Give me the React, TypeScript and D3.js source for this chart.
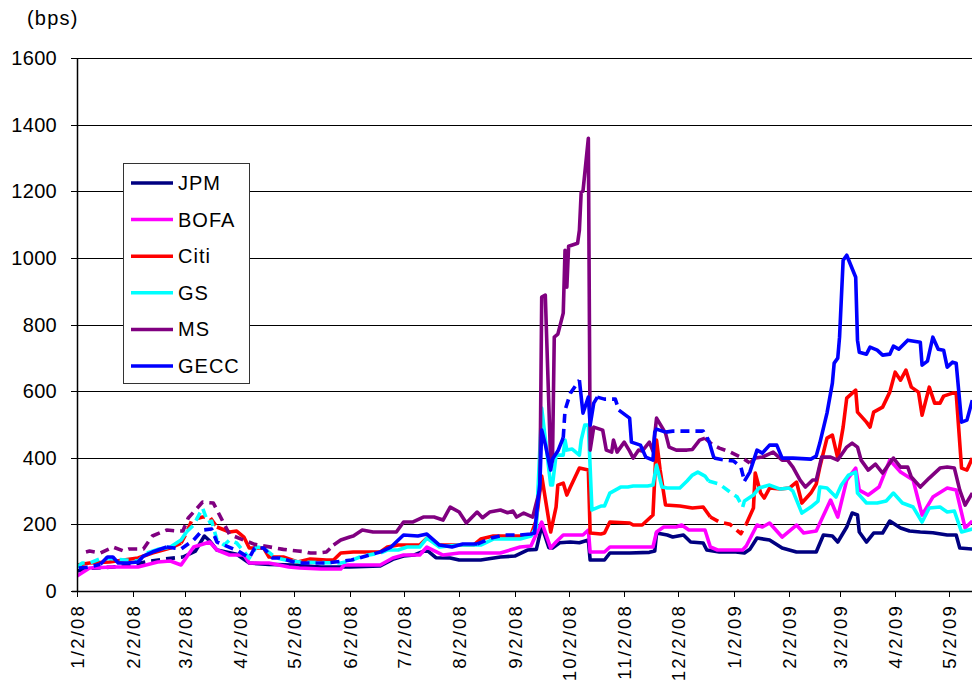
import React from 'react';
import * as d3 from 'd3';

type Pt = [string, number];

const monthTicks: string[] = ['2008-01-02','2008-02-02','2008-03-02','2008-04-02','2008-05-02','2008-06-02','2008-07-02','2008-08-02','2008-09-02','2008-10-02','2008-11-02','2008-12-02','2009-01-02','2009-02-02','2009-03-02','2009-04-02','2009-05-02'];
const tickLabels: string[] = ['1/2/08','2/2/08','3/2/08','4/2/08','5/2/08','6/2/08','7/2/08','8/2/08','9/2/08','10/2/08','11/2/08','12/2/08','1/2/09','2/2/09','3/2/09','4/2/09','5/2/09'];
const yTicks: number[] = [0, 200, 400, 600, 800, 1000, 1200, 1400, 1600];

const jpm: Pt[] = [['2008-01-02',60],['2008-01-09',68],['2008-01-22',72],['2008-02-01',78],['2008-02-12',90],['2008-02-20',96],['2008-03-01',102],['2008-03-08',120],['2008-03-13',165],['2008-03-16',150],['2008-03-20',123],['2008-03-31',110],['2008-04-07',84],['2008-04-18',80],['2008-05-01',78],['2008-05-17',72],['2008-06-02',72],['2008-06-19',75],['2008-06-26',95],['2008-07-02',105],['2008-07-08',108],['2008-07-15',123],['2008-07-20',100],['2008-07-28',99],['2008-08-02',93],['2008-08-14',93],['2008-08-25',102],['2008-09-02',105],['2008-09-09',123],['2008-09-14',125],['2008-09-17',195],['2008-09-21',130],['2008-09-23',129],['2008-09-27',145],['2008-10-03',147],['2008-10-08',145],['2008-10-13',153],['2008-10-14',93],['2008-10-20',93],['2008-10-22',93],['2008-10-25',114],['2008-11-05',114],['2008-11-16',116],['2008-11-19',120],['2008-11-20',174],['2008-11-26',168],['2008-11-29',162],['2008-12-05',168],['2008-12-09',147],['2008-12-16',144],['2008-12-18',123],['2008-12-25',117],['2009-01-02',118],['2009-01-08',114],['2009-01-11',125],['2009-01-15',159],['2009-01-22',153],['2009-01-29',129],['2009-02-06',117],['2009-02-17',117],['2009-02-21',168],['2009-02-26',165],['2009-03-01',147],['2009-03-06',192],['2009-03-09',234],['2009-03-12',228],['2009-03-13',177],['2009-03-17',147],['2009-03-21',174],['2009-03-26',174],['2009-03-30',210],['2009-04-05',189],['2009-04-10',180],['2009-04-16',177],['2009-04-23',175],['2009-05-01',168],['2009-05-06',168],['2009-05-08',129],['2009-05-15',126]];

const bofa: Pt[] = [['2008-01-02',45],['2008-01-09',69],['2008-01-22',72],['2008-02-05',72],['2008-02-16',87],['2008-02-23',90],['2008-02-29',78],['2008-03-07',132],['2008-03-16',147],['2008-03-20',123],['2008-03-27',108],['2008-04-04',108],['2008-04-07',84],['2008-04-18',84],['2008-04-29',72],['2008-05-05',69],['2008-05-17',66],['2008-05-28',66],['2008-05-30',78],['2008-06-19',78],['2008-06-26',99],['2008-07-02',108],['2008-07-11',108],['2008-07-15',132],['2008-07-24',108],['2008-08-02',114],['2008-08-25',114],['2008-09-05',132],['2008-09-11',135],['2008-09-17',207],['2008-09-22',129],['2008-09-25',147],['2008-09-29',168],['2008-10-10',168],['2008-10-13',183],['2008-10-14',117],['2008-10-22',117],['2008-10-25',132],['2008-11-18',132],['2008-11-20',177],['2008-11-24',192],['2008-12-01',192],['2008-12-04',198],['2008-12-08',183],['2008-12-17',183],['2008-12-20',132],['2008-12-24',123],['2009-01-07',123],['2009-01-09',135],['2009-01-15',198],['2009-01-18',192],['2009-01-22',204],['2009-01-29',162],['2009-02-06',198],['2009-02-10',174],['2009-02-17',180],['2009-02-25',273],['2009-03-01',222],['2009-03-06',333],['2009-03-11',369],['2009-03-13',303],['2009-03-18',288],['2009-03-24',312],['2009-03-30',393],['2009-04-05',357],['2009-04-12',333],['2009-04-17',228],['2009-04-23',282],['2009-05-01',309],['2009-05-06',303],['2009-05-11',189],['2009-05-15',210]];

const citi: Pt[] = [['2008-01-02',78],['2008-01-09',84],['2008-01-20',87],['2008-02-05',99],['2008-02-13',114],['2008-02-23',129],['2008-02-29',144],['2008-03-03',174],['2008-03-06',213],['2008-03-12',222],['2008-03-16',222],['2008-03-20',192],['2008-03-27',177],['2008-03-31',180],['2008-04-04',162],['2008-04-07',129],['2008-04-15',129],['2008-04-18',102],['2008-04-26',102],['2008-05-04',87],['2008-05-11',96],['2008-05-20',93],['2008-05-24',93],['2008-05-28',114],['2008-06-04',117],['2008-06-19',117],['2008-06-23',132],['2008-06-29',138],['2008-07-11',138],['2008-07-15',159],['2008-07-22',138],['2008-08-10',138],['2008-08-14',156],['2008-08-21',165],['2008-09-05',165],['2008-09-11',168],['2008-09-14',213],['2008-09-17',345],['2008-09-22',177],['2008-09-25',252],['2008-09-26',318],['2008-09-29',324],['2008-10-01',288],['2008-10-03',312],['2008-10-08',369],['2008-10-13',363],['2008-10-14',174],['2008-10-20',171],['2008-10-22',174],['2008-10-25',207],['2008-11-05',204],['2008-11-07',198],['2008-11-12',198],['2008-11-18',228],['2008-11-20',453],['2008-11-22',363],['2008-11-25',258],['2008-12-03',255],['2008-12-10',249],['2008-12-16',252],['2008-12-20',222],['2008-12-25',207],['2008-12-31',200],['2009-01-06',172],['2009-01-09',201],['2009-01-13',249],['2009-01-14',354],['2009-01-17',294],['2009-01-19',279],['2009-01-22',309],['2009-01-28',306],['2009-02-02',309],['2009-02-06',327],['2009-02-09',264],['2009-02-14',294],['2009-02-17',321],['2009-02-19',372],['2009-02-23',459],['2009-02-26',468],['2009-03-01',399],['2009-03-04',492],['2009-03-06',579],['2009-03-11',603],['2009-03-12',537],['2009-03-17',507],['2009-03-19',492],['2009-03-21',537],['2009-03-26',552],['2009-03-30',597],['2009-04-02',657],['2009-04-05',633],['2009-04-08',663],['2009-04-11',612],['2009-04-15',597],['2009-04-17',528],['2009-04-21',612],['2009-04-24',564],['2009-04-27',564],['2009-04-29',585],['2009-05-04',594],['2009-05-06',594],['2009-05-09',369],['2009-05-12',363],['2009-05-15',399]];

const gs: Pt[] = [['2008-01-02',72],['2008-01-05',84],['2008-01-09',84],['2008-01-16',99],['2008-01-25',95],['2008-02-05',90],['2008-02-10',114],['2008-02-16',125],['2008-02-23',132],['2008-02-29',153],['2008-03-03',177],['2008-03-07',198],['2008-03-12',249],['2008-03-15',205],['2008-03-17',210],['2008-03-20',153],['2008-03-24',138],['2008-03-27',153],['2008-03-31',144],['2008-04-07',99],['2008-04-11',132],['2008-04-15',129],['2008-04-22',99],['2008-04-28',92],['2008-05-05',87],['2008-05-20',85],['2008-05-28',84],['2008-06-02',90],['2008-06-09',105],['2008-06-19',114],['2008-06-23',123],['2008-06-29',123],['2008-07-04',132],['2008-07-11',132],['2008-07-15',159],['2008-07-22',132],['2008-08-02',138],['2008-08-14',138],['2008-08-21',156],['2008-09-05',156],['2008-09-11',165],['2008-09-14',192],['2008-09-17',549],['2008-09-22',318],['2008-09-23',318],['2008-09-25',408],['2008-09-29',408],['2008-09-30',453],['2008-10-01',423],['2008-10-04',426],['2008-10-08',408],['2008-10-09',453],['2008-10-11',498],['2008-10-13',498],['2008-10-15',243],['2008-10-16',246],['2008-10-20',255],['2008-10-22',255],['2008-10-25',294],['2008-10-31',312],['2008-11-04',312],['2008-11-07',315],['2008-11-11',315],['2008-11-15',315],['2008-11-18',318],['2008-11-20',378],['2008-11-23',312],['2008-11-26',309],['2008-12-03',309],['2008-12-07',330],['2008-12-10',348],['2008-12-13',357],['2008-12-17',345],['2008-12-19',330],['2008-12-25',321],['2008-12-31',297],['2009-01-04',282],['2009-01-07',252],['2009-01-08',270],['2009-01-13',288],['2009-01-16',309],['2009-01-22',318],['2009-01-28',306],['2009-02-02',309],['2009-02-04',300],['2009-02-09',234],['2009-02-14',252],['2009-02-18',270],['2009-02-19',312],['2009-02-23',309],['2009-02-28',282],['2009-03-03',318],['2009-03-07',348],['2009-03-11',357],['2009-03-12',294],['2009-03-17',264],['2009-03-23',264],['2009-03-28',270],['2009-04-01',294],['2009-04-06',264],['2009-04-12',252],['2009-04-17',207],['2009-04-21',249],['2009-04-27',252],['2009-05-01',237],['2009-05-05',240],['2009-05-09',177],['2009-05-15',186]];

const ms: Pt[] = [['2008-01-07',117],['2008-01-09',120],['2008-01-15',114],['2008-01-22',132],['2008-01-28',120],['2008-01-31',126],['2008-02-05',126],['2008-02-08',126],['2008-02-13',165],['2008-02-21',183],['2008-02-27',180],['2008-03-01',180],['2008-03-04',219],['2008-03-12',267],['2008-03-18',264],['2008-03-27',170],['2008-04-10',140],['2008-04-26',125],['2008-04-29',123],['2008-05-04',120],['2008-05-08',118],['2008-05-11',114],['2008-05-15',114],['2008-05-20',117],['2008-05-24',138],['2008-05-28',153],['2008-06-02',162],['2008-06-04',165],['2008-06-09',183],['2008-06-15',177],['2008-06-28',177],['2008-07-02',207],['2008-07-07',207],['2008-07-13',222],['2008-07-19',222],['2008-07-24',213],['2008-07-28',252],['2008-08-02',237],['2008-08-06',204],['2008-08-12',237],['2008-08-15',220],['2008-08-19',237],['2008-08-25',243],['2008-08-29',235],['2008-09-01',240],['2008-09-03',222],['2008-09-07',234],['2008-09-12',222],['2008-09-14',264],['2008-09-16',303],['2008-09-17',882],['2008-09-19',888],['2008-09-22',387],['2008-09-23',390],['2008-09-24',762],['2008-09-26',771],['2008-09-29',834],['2008-09-30',1023],['2008-10-01',912],['2008-10-02',1035],['2008-10-07',1044],['2008-10-08',1083],['2008-10-09',1197],['2008-10-10',1200],['2008-10-13',1359],['2008-10-14',423],['2008-10-16',492],['2008-10-21',483],['2008-10-23',423],['2008-10-26',417],['2008-10-27',453],['2008-10-29',417],['2008-11-02',447],['2008-11-05',420],['2008-11-07',399],['2008-11-10',423],['2008-11-12',420],['2008-11-16',447],['2008-11-18',420],['2008-11-20',519],['2008-11-25',474],['2008-11-27',432],['2008-12-01',423],['2008-12-07',423],['2008-12-10',425],['2008-12-14',453],['2008-12-17',459],['2008-12-21',440],['2008-12-25',429],['2008-12-31',417],['2009-01-07',399],['2009-01-11',384],['2009-01-14',399],['2009-01-18',402],['2009-01-24',417],['2009-01-29',393],['2009-02-01',393],['2009-02-04',372],['2009-02-08',333],['2009-02-11',312],['2009-02-15',333],['2009-02-17',333],['2009-02-20',402],['2009-02-25',402],['2009-03-01',393],['2009-03-06',432],['2009-03-09',444],['2009-03-12',432],['2009-03-14',393],['2009-03-18',363],['2009-03-22',381],['2009-03-26',354],['2009-04-01',399],['2009-04-05',372],['2009-04-09',372],['2009-04-11',342],['2009-04-16',312],['2009-04-21',339],['2009-04-27',369],['2009-05-01',372],['2009-05-05',369],['2009-05-08',303],['2009-05-11',258],['2009-05-15',294]];

const gecc: Pt[] = [['2008-01-03',69],['2008-01-09',72],['2008-01-15',80],['2008-01-19',102],['2008-01-22',102],['2008-01-25',84],['2008-01-30',84],['2008-02-05',87],['2008-02-08',105],['2008-02-13',117],['2008-02-21',132],['2008-02-29',126],['2008-03-07',153],['2008-03-12',183],['2008-03-17',186],['2008-03-20',147],['2008-04-01',120],['2008-04-07',99],['2008-04-10',129],['2008-04-15',129],['2008-04-20',99],['2008-04-24',99],['2008-05-04',84],['2008-05-15',84],['2008-05-20',84],['2008-06-03',93],['2008-06-19',117],['2008-06-25',132],['2008-07-02',168],['2008-07-10',165],['2008-07-15',171],['2008-07-22',138],['2008-07-29',132],['2008-08-04',141],['2008-08-12',141],['2008-08-20',159],['2008-08-27',168],['2008-09-05',168],['2008-09-11',171],['2008-09-13',174],['2008-09-16',324],['2008-09-17',483],['2008-09-19',440],['2008-09-22',363],['2008-09-23',396],['2008-09-26',420],['2008-09-29',460],['2008-09-30',543],['2008-10-03',594],['2008-10-08',633],['2008-10-10',534],['2008-10-13',582],['2008-10-14',498],['2008-10-16',564],['2008-10-18',582],['2008-10-22',576],['2008-10-28',576],['2008-10-30',543],['2008-11-05',519],['2008-11-06',447],['2008-11-11',438],['2008-11-14',402],['2008-11-18',393],['2008-11-19',477],['2008-11-20',486],['2008-11-25',477],['2008-11-29',480],['2008-12-08',480],['2008-12-16',480],['2008-12-19',453],['2008-12-22',399],['2008-12-28',393],['2009-01-02',390],['2009-01-06',372],['2009-01-08',330],['2009-01-11',357],['2009-01-15',423],['2009-01-18',414],['2009-01-22',438],['2009-01-26',438],['2009-01-29',399],['2009-02-04',399],['2009-02-14',396],['2009-02-17',405],['2009-02-19',444],['2009-02-23',534],['2009-02-26',624],['2009-02-27',684],['2009-03-01',699],['2009-03-02',762],['2009-03-04',993],['2009-03-06',1008],['2009-03-11',942],['2009-03-12',753],['2009-03-13',717],['2009-03-17',711],['2009-03-19',732],['2009-03-23',723],['2009-03-26',708],['2009-03-30',711],['2009-04-01',735],['2009-04-04',726],['2009-04-09',753],['2009-04-16',747],['2009-04-17',678],['2009-04-20',690],['2009-04-23',762],['2009-04-26',726],['2009-04-29',723],['2009-05-01',672],['2009-05-04',687],['2009-05-06',684],['2009-05-09',507],['2009-05-12',513],['2009-05-15',573]];

const seriesNames: string[] = ['JPM', 'BOFA', 'Citi', 'GS', 'MS', 'GECC'];
const seriesColors: string[] = ['#000080', '#FF00FF', '#FF0000', '#00FFFF', '#800080', '#0000FF'];
const seriesData: Pt[][] = [jpm, bofa, citi, gs, ms, gecc];
const dashedRanges: [string, string][][] = [
  [['2008-01-02', '2008-02-27']],
  [],
  [['2008-03-01', '2008-03-18'], ['2008-12-21', '2009-01-09']],
  [['2008-01-02', '2008-02-08'], ['2008-03-04', '2008-06-22'], ['2008-12-21', '2009-01-07']],
  [['2008-01-02', '2008-05-22'], ['2008-12-19', '2009-01-10']],
  [['2008-01-02', '2008-01-16'], ['2008-02-25', '2008-06-18'], ['2008-08-15', '2008-09-03'], ['2008-09-29', '2008-10-07'], ['2008-10-19', '2008-11-01'], ['2008-11-24', '2008-12-18'], ['2008-12-21', '2009-01-07']],
];

const parse = d3.timeParse('%Y-%m-%d');
const FONT = "'Liberation Sans', Arial, sans-serif";

export default function App() {
  const W = 972, H = 680;
  const left = 77, top = 58, bottom = 591;
  const x = d3.scaleTime().domain([parse('2008-01-02') as Date, parse('2009-05-02') as Date]).range([left, 949]);
  const y = d3.scaleLinear().domain([0, 1600]).range([bottom, top]);
  const line = d3.line<{ t: Date; v: number }>().x(d => x(d.t)).y(d => y(d.v));

  const paths: { d: string; color: string; dashed: boolean; key: string }[] = [];
  seriesData.forEach((data, si) => {
    const pts = data.map(([s, v]) => ({ t: parse(s) as Date, v }));
    const ranges = dashedRanges[si].map(([a, b]) => [+(parse(a) as Date), +(parse(b) as Date)]);
    const runs: { dashed: boolean; pts: { t: Date; v: number }[] }[] = [];
    let cur: { dashed: boolean; pts: { t: Date; v: number }[] } | null = null;
    for (let i = 0; i < pts.length - 1; i++) {
      const mid = (+pts[i].t + +pts[i + 1].t) / 2;
      const isD = ranges.some(([a, b]) => mid >= a && mid <= b);
      if (!cur || cur.dashed !== isD) {
        cur = { dashed: isD, pts: [pts[i]] };
        runs.push(cur);
      }
      cur.pts.push(pts[i + 1]);
    }
    runs.forEach((r, ri) => paths.push({ d: line(r.pts) || '', color: seriesColors[si], dashed: r.dashed, key: `${si}-${ri}` }));
  });

  const legendRowY = (i: number) => 183 + i * 36.6;

  return (
    <svg width={W} height={H} style={{ position: 'absolute', left: 0, top: 0, background: '#fff' }} fontFamily={FONT}>
      <rect x={0} y={0} width={W} height={H} fill="#fff" />
      <defs>
        <clipPath id="plot">
          <rect x={left} y={top - 10} width={W - left} height={bottom - top + 10} />
        </clipPath>
      </defs>
      {yTicks.filter(v => v > 0).map(v => (
        <line key={v} x1={left} x2={W} y1={Math.round(y(v)) + 0.5} y2={Math.round(y(v)) + 0.5} stroke="#000" strokeWidth={1} />
      ))}
      <g clipPath="url(#plot)">
        {paths.map(p => (
          <path key={p.key} d={p.d} fill="none" stroke={p.color} strokeWidth={3.6}
            strokeLinejoin="round" strokeDasharray={p.dashed ? '9 6' : undefined} />
        ))}
      </g>
      <line x1={left + 0.5} x2={left + 0.5} y1={top} y2={bottom} stroke="#000" strokeWidth={1.5} />
      <line x1={left - 5} x2={W} y1={bottom + 0.5} y2={bottom + 0.5} stroke="#000" strokeWidth={1.5} />
      {yTicks.map(v => (
        <g key={v}>
          <line x1={left - 6} x2={left} y1={Math.round(y(v)) + 0.5} y2={Math.round(y(v)) + 0.5} stroke="#000" />
          <text x={57} y={y(v) + 7} textAnchor="end" fontSize={20} letterSpacing={0.3} fill="#000">{v}</text>
        </g>
      ))}
      {monthTicks.map((m, i) => {
        const xx = Math.round(x(parse(m) as Date)) + 0.5;
        return (
          <g key={m}>
            <line x1={xx} x2={xx} y1={bottom} y2={bottom + 6} stroke="#000" />
            <text transform={`translate(${xx + 6.5},604) rotate(-90)`} textAnchor="end" fontSize={18.5} letterSpacing={2.2} fill="#000">{tickLabels[i]}</text>
          </g>
        );
      })}
      <text x={27} y={25} fontSize={20} letterSpacing={1.2} fill="#000">(bps)</text>
      <rect x={123.5} y={163.5} width={126} height={220} fill="#fff" stroke="#333" strokeWidth={1} />
      {seriesNames.map((n, i) => (
        <g key={n}>
          <line x1={131} x2={173} y1={legendRowY(i)} y2={legendRowY(i)} stroke={seriesColors[i]} strokeWidth={3.5} />
          <text x={178} y={legendRowY(i) + 7} fontSize={20} letterSpacing={1} fill="#000">{n}</text>
        </g>
      ))}
    </svg>
  );
}
